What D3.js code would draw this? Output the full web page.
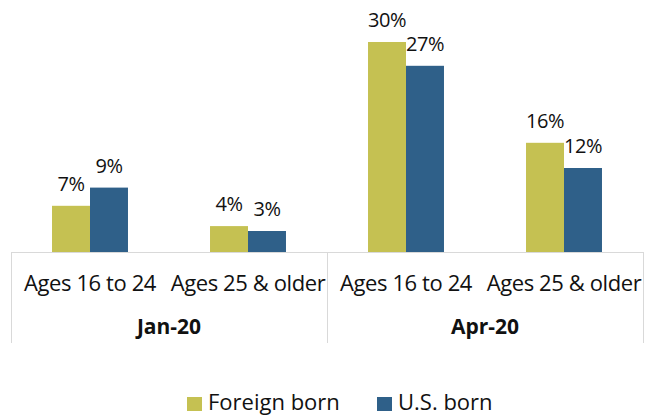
<!DOCTYPE html>
<html>
<head>
<meta charset="utf-8">
<script src="https://cdn.jsdelivr.net/npm/d3@7"></script>
<style>
  body { margin: 0; background: #fff; }
  svg text { font-family: "Open Sans", sans-serif; fill: #111; }
</style>
</head>
<body>
<div id="chart"></div>
<script>
// values (percent)
const periods = ["Jan-20", "Apr-20"];
const ageGroups = ["Ages 16 to 24", "Ages 25 & older"];
const seriesNames = ["Foreign born", "U.S. born"];
const foreignBorn = [6.6, 3.7, 30.0, 15.6];
const usBorn = [9.2, 3.0, 26.6, 12.0];
const colors = ["#c5c152", "#2f6089"];

let width = 652, height = 416;
let margin = {top: 7, left: 11, right: 9, bottom: 164};
let baseY = height - margin.bottom;

// flat list of categories, period x age group
let cats = [];
periods.forEach(p => ageGroups.forEach(a => cats.push({period: p, age: a, key: p + "|" + a})));
cats.forEach((c, i) => { c.values = [foreignBorn[i], usBorn[i]]; });

let svg = d3.select("#chart").append("svg")
  .attr("width", width)
  .attr("height", height);

let x0 = d3.scaleBand()
  .domain(cats.map(d => d.key))
  .range([margin.left, width - margin.right]);

let x1 = d3.scaleBand()
  .domain(seriesNames)
  .range([0, x0.bandwidth()])
  .paddingOuter(1.08);

let y = d3.scaleLinear()
  .domain([0, 35])
  .range([baseY, margin.top]);

let fmt = v => Math.round(v) + "%";

let groups = svg.selectAll(".cat")
  .data(cats)
  .enter().append("g")
  .attr("class", "cat")
  .attr("transform", d => `translate(${x0(d.key)},0)`);

groups.selectAll("rect")
  .data(d => d.values.map((v, i) => ({name: seriesNames[i], value: v, i: i})))
  .enter().append("rect")
  .attr("x", d => x1(d.name))
  .attr("width", x1.bandwidth())
  .attr("y", d => y(d.value))
  .attr("height", d => baseY - y(d.value))
  .attr("fill", d => colors[d.i]);

groups.selectAll(".lbl")
  .data(d => d.values.map((v, i) => ({name: seriesNames[i], value: v})))
  .enter().append("text")
  .attr("class", "lbl")
  .attr("x", d => x1(d.name) + x1.bandwidth() / 2)
  .attr("y", d => y(d.value) - 15)
  .attr("text-anchor", "middle")
  .style("font-size", "20px")
  .style("letter-spacing", "-0.5px")
  .text(d => fmt(d.value));

// multi-level category axis
let axis = svg.append("g").attr("class", "axis");
let lineColor = "#d9d9d9";
let axisBottom = 343;

axis.append("line")
  .attr("x1", margin.left).attr("x2", width - margin.right)
  .attr("y1", baseY + 0.5).attr("y2", baseY + 0.5)
  .attr("stroke", lineColor);

let dividers = periods.map(p => x0(p + "|" + ageGroups[0]));
dividers.push(width - margin.right);
axis.selectAll(".div")
  .data(dividers)
  .enter().append("line")
  .attr("x1", d => Math.round(d) + 0.5).attr("x2", d => Math.round(d) + 0.5)
  .attr("y1", baseY).attr("y2", axisBottom)
  .attr("stroke", lineColor);

axis.selectAll(".tick")
  .data(cats)
  .enter().append("text")
  .attr("x", d => x0(d.key) + x0.bandwidth() / 2)
  .attr("y", 291)
  .attr("text-anchor", "middle")
  .style("font-size", "22px")
  .style("letter-spacing", "-0.4px")
  .text(d => d.age);

axis.selectAll(".period")
  .data(periods)
  .enter().append("text")
  .attr("x", p => x0(p + "|" + ageGroups[0]) + x0.bandwidth())
  .attr("y", 334)
  .attr("text-anchor", "middle")
  .style("font-size", "21px")
  .style("font-weight", "bold")
  .text(p => p);

// legend
let legend = svg.append("g").attr("transform", "translate(187,397)");
let legendX = [0, 190];
let keys = legend.selectAll(".key")
  .data(seriesNames)
  .enter().append("g")
  .attr("transform", (d, i) => `translate(${legendX[i]},0)`);
keys.append("rect")
  .attr("width", 15).attr("height", 14)
  .attr("fill", (d, i) => colors[i]);
keys.append("text")
  .attr("x", 21).attr("y", 13)
  .style("font-size", "22px")
  .text(d => d);
</script>
</body>
</html>
